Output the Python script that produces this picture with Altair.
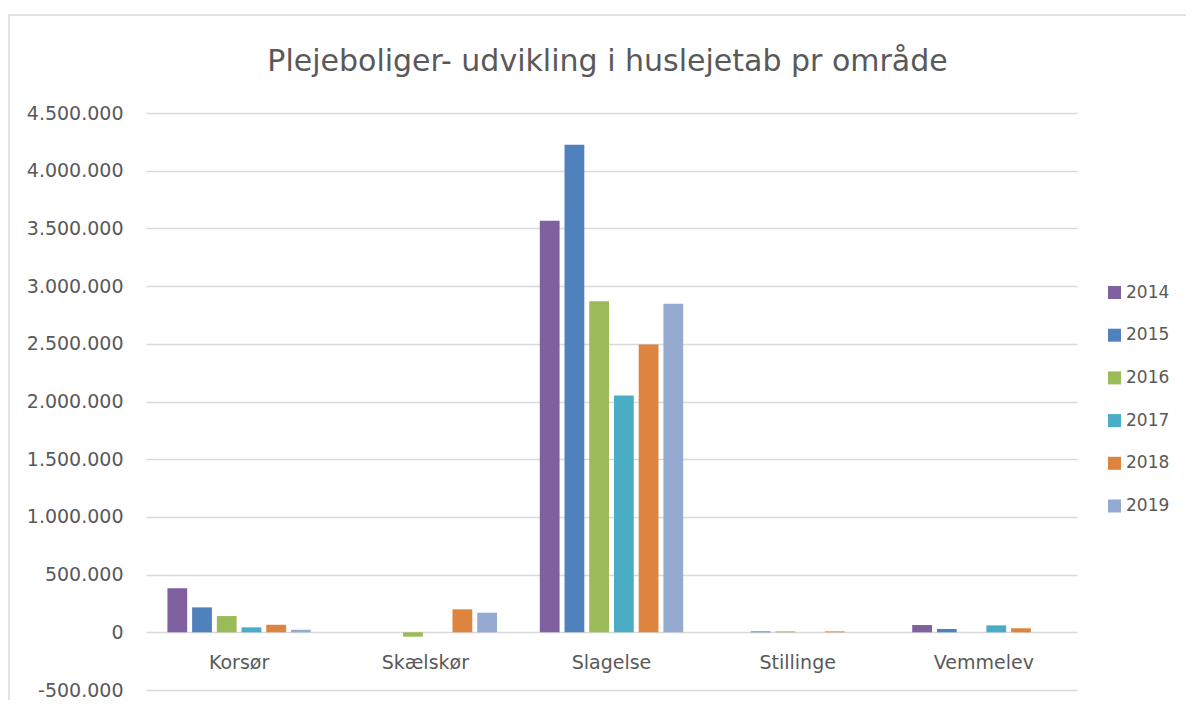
import altair as alt
import pandas as pd

areas = ["Korsør", "Skælskør", "Slagelse", "Stillinge", "Vemmelev"]
years = ["2014", "2015", "2016", "2017", "2018", "2019"]
v2014 = [381000, 0, 3567000, 0, 63000]
v2015 = [216000, 0, 4224000, 8000, 29000]
v2016 = [141000, -38000, 2869000, 8000, 0]
v2017 = [43000, 0, 2053000, 0, 60000]
v2018 = [66000, 199000, 2494000, 8000, 35000]
v2019 = [22000, 170000, 2846000, 0, 0]
colors = ["#7F61A0", "#4F81BD", "#9BBB59", "#4BACC6", "#DD843E", "#95A9D1"]
title_text = "Plejeboliger- udvikling i huslejetab pr område"

series = [v2014, v2015, v2016, v2017, v2018, v2019]
rows = []
for y, vals in zip(years, series):
    for a, v in zip(areas, vals):
        rows.append({"Område": a, "År": y, "Beløb": v})
df = pd.DataFrame(rows)

FONT = "DejaVu Sans"
GREY = "#595959"

bars = alt.Chart(df).mark_bar().encode(
    x=alt.X("Område:N", sort=areas,
            scale=alt.Scale(paddingInner=0.23, paddingOuter=0.115),
            axis=alt.Axis(title=None, domain=False, ticks=False, grid=False,
                          labelAngle=0, labelFont=FONT, labelFontSize=19,
                          labelColor=GREY, labelPadding=30,
                          labelBaseline="middle", offset=-57.7)),
    xOffset=alt.XOffset("År:N", sort=years,
                        scale=alt.Scale(paddingInner=0.2, paddingOuter=0)),
    y=alt.Y("Beløb:Q",
            scale=alt.Scale(domain=[-500000, 4500000], nice=False, zero=False),
            axis=alt.Axis(title=None, domain=False, ticks=False,
                          values=list(range(-500000, 4500001, 500000)),
                          labelExpr="replace(replace(format(datum.value, ','), regexp(',', 'g'), '.'), regexp('\u2212', 'g'), '-')",
                          labelFont=FONT, labelFontSize=19, labelColor=GREY,
                          labelPadding=23, gridColor="#d9d9d9", gridWidth=1.3)),
    color=alt.Color("År:N", sort=years,
                    scale=alt.Scale(domain=years, range=colors),
                    legend=alt.Legend(title=None, orient="none",
                                      legendX=960, legendY=171,
                                      symbolType="square", symbolSize=169,
                                      symbolStrokeWidth=0,
                                      labelFont=FONT, labelFontSize=17,
                                      labelColor=GREY, labelOffset=3,
                                      rowPadding=24.7, padding=0)),
)

frame = alt.Chart(pd.DataFrame({"f": [0]})).mark_rect(
    fill="transparent", stroke="#d9d9d9", strokeWidth=1.5
).encode(
    x=alt.value(-137), x2=alt.value(1200),
    y=alt.value(-98), y2=alt.value(700),
)

chart = alt.layer(frame, bars).properties(
    width=931, height=577,
    title=alt.TitleParams(title_text, font=FONT, fontSize=30, fontWeight="normal",
                          color=GREY, anchor="middle", frame="group",
                          offset=-62.75, dx=-4),
    autosize=alt.AutoSizeParams(type="none"),
    padding={"left": 138, "top": 105, "right": 109, "bottom": 10},
).configure_view(strokeWidth=0)

chart.save("out.html", embed_options={"renderer": "svg", "actions": False})
